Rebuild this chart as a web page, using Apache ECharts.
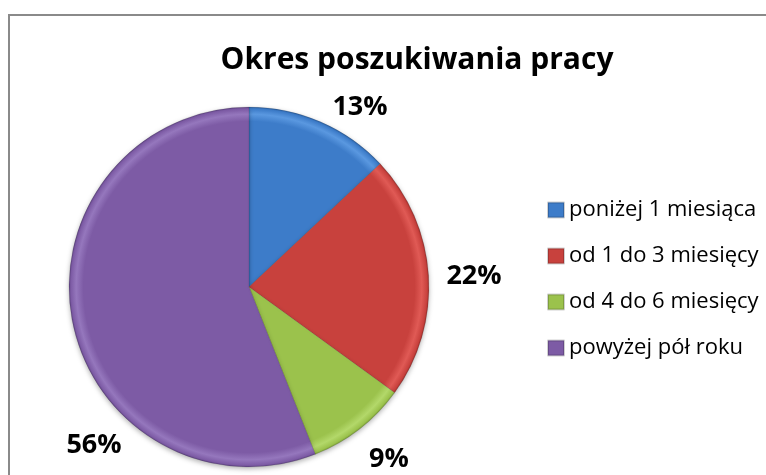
<!DOCTYPE html>
<html>
<head>
<meta charset="utf-8">
<script src="https://cdn.jsdelivr.net/npm/echarts@6/dist/echarts.min.js"></script>
<style>
  html, body { margin:0; padding:0; background:#fff; }
  #echart { width:766px; height:475px; }
</style>
</head>
<body>
<div id="echart"></div>
<script>
// data
let categories = ['poniżej 1 miesiąca', 'od 1 do 3 miesięcy', 'od 4 do 6 miesięcy', 'powyżej pół roku'];
let percents = [13, 22, 9, 56];

// look
let baseColors = ['#3d7cc9', '#c8413d', '#9bc24c', '#7d5ba5'];
let lightColors = ['#5a98e0', '#e05a55', '#b3d86a', '#9577bd'];
let darkColors = ['#2c5f9e', '#9a2f2c', '#789a38', '#5f4482'];
let labelPos = [[360, 107], [474, 276], [389, 459], [94, 445]];
let cx = 249, cy = 287, rad = 180;

function sliceColor(i)
{
  return {
    type: 'radial', x: cx, y: cy, r: rad, global: true,
    colorStops: [
      {offset: 0, color: baseColors[i]},
      {offset: 0.92, color: baseColors[i]},
      {offset: 0.96, color: lightColors[i]},
      {offset: 0.99, color: baseColors[i]},
      {offset: 1, color: darkColors[i]}
    ]
  };
}

let myChart = echarts.init(document.getElementById('echart'));

let pieData = [];
for (let i = 0; i < categories.length; i++) {
  pieData.push({
    name: categories[i],
    value: percents[i],
    itemStyle: {color: sliceColor(i)}
  });
}

let legendData = categories.map(function (n, i) {
  return {name: n, itemStyle: {color: baseColors[i]}};
});

let option = {
  animation: false,
  title: {
    text: 'Okres poszukiwania pracy',
    left: 412,
    textAlign: 'center',
    top: 40,
    textStyle: {
      fontFamily: 'Open Sans',
      fontWeight: 'bold',
      fontSize: 30,
      color: '#000'
    }
  },
  legend: {
    orient: 'vertical',
    left: 547,
    top: 199,
    padding: 0,
    icon: 'rect',
    itemWidth: 16,
    itemHeight: 15,
    itemGap: 24,
    data: legendData,
    textStyle: {
      fontFamily: 'Open Sans',
      fontSize: 22,
      lineHeight: 22,
      color: '#000'
    }
  },
  graphic: [
    {
      type: 'rect',
      z: -1,
      shape: {x: 9, y: 15, width: 800, height: 500},
      style: {fill: 'none', stroke: '#8a8a8a', lineWidth: 2}
    }
  ],
  series: [
    {
      type: 'pie',
      center: [cx, cy],
      radius: rad,
      startAngle: 90,
      clockwise: true,
      silent: true,
      avoidLabelOverlap: false,
      data: pieData,
      itemStyle: {
        borderColor: 'rgba(0,0,0,0.18)',
        borderWidth: 0.6,
        shadowBlur: 5,
        shadowColor: 'rgba(0,0,0,0.3)',
        shadowOffsetY: 2
      },
      label: {
        show: true,
        position: 'outside',
        overflow: 'none',
        formatter: '{d}%',
        fontFamily: 'Open Sans',
        fontWeight: 'bold',
        fontSize: 27,
        color: '#000'
      },
      labelLine: {show: false},
      labelLayout: function (params) {
        let p = labelPos[params.dataIndex];
        return {x: p[0], y: p[1], align: 'center', verticalAlign: 'middle'};
      }
    }
  ]
};

myChart.setOption(option);
</script>
</body>
</html>
